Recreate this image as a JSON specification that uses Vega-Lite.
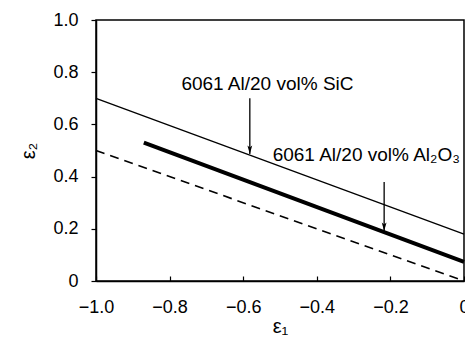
{
  "$schema": "https://vega.github.io/schema/vega-lite/v6.json",
  "width": 368,
  "height": 261,
  "autosize": {"type": "none"},
  "padding": {"left": 96, "top": 20, "right": 1, "bottom": 57},
  "background": "white",
  "config": {
    "view": {"stroke": "black", "strokeWidth": 1.5},
    "font": "Liberation Sans",
    "axis": {
      "grid": false,
      "domainColor": "black",
      "domainWidth": 1.5,
      "tickColor": "black",
      "tickWidth": 1.2,
      "labelColor": "black",
      "labelFont": "Liberation Sans",
      "labelFontSize": 18,
      "titleFont": "Liberation Sans",
      "titleFontSize": 20,
      "titleFontWeight": "normal",
      "titleColor": "black"
    }
  },
  "datasets": {
    "lines": [
      {"series": "SiC", "e1": -1.0, "e2": 0.70},
      {"series": "SiC", "e1": 0.0, "e2": 0.18},
      {"series": "Al2O3", "e1": -0.87, "e2": 0.53},
      {"series": "Al2O3", "e1": 0.0, "e2": 0.073},
      {"series": "dashed", "e1": -1.0, "e2": 0.5},
      {"series": "dashed", "e1": 0.0, "e2": 0.0}
    ],
    "arrows": [
      {"e1": -0.582, "top": 0.70, "tip": 0.487},
      {"e1": -0.217, "top": 0.379, "tip": 0.192}
    ],
    "labels": [
      {"e1": -0.768, "e2": 0.732, "text": "6061 Al/20 vol% SiC"},
      {"e1": -0.52, "e2": 0.461, "text": "6061 Al/20 vol% Al₂O₃"}
    ]
  },
  "layer": [
    {
      "data": {"name": "lines"},
      "transform": [{"filter": "datum.series == 'SiC'"}],
      "mark": {"type": "line", "color": "black", "strokeWidth": 1.3},
      "encoding": {
        "x": {
          "field": "e1", "type": "quantitative",
          "scale": {"domain": [-1, 0], "nice": false},
          "axis": {
            "title": "ε₁",
            "titlePadding": 0,
            "values": [-1, -0.9, -0.8, -0.7, -0.6, -0.5, -0.4, -0.3, -0.2, -0.1, 0],
            "labelExpr": "abs(round(datum.value*10)) % 2 == 1 ? '' : (datum.value == 0 ? '0' : format(datum.value, '.1f'))",
            "tickSize": -5,
            "labelPadding": 22,
            "labelFlush": false
          }
        },
        "y": {
          "field": "e2", "type": "quantitative",
          "scale": {"domain": [0, 1], "nice": false},
          "axis": {
            "title": "ε₂",
            "titlePadding": 14,
            "values": [0, 0.1, 0.2, 0.3, 0.4, 0.5, 0.6, 0.7, 0.8, 0.9, 1.0],
            "labelExpr": "round(datum.value*10) % 2 == 1 ? '' : (datum.value == 0 ? '0' : format(datum.value, '.1f'))",
            "tickSize": 5,
            "labelPadding": 13,
            "labelFlush": false
          }
        }
      }
    },
    {
      "data": {"name": "lines"},
      "transform": [{"filter": "datum.series == 'Al2O3'"}],
      "mark": {"type": "line", "color": "black", "strokeWidth": 4},
      "encoding": {
        "x": {"field": "e1", "type": "quantitative"},
        "y": {"field": "e2", "type": "quantitative"}
      }
    },
    {
      "data": {"name": "lines"},
      "transform": [{"filter": "datum.series == 'dashed'"}],
      "mark": {"type": "line", "color": "black", "strokeWidth": 1.6, "strokeDash": [9, 6]},
      "encoding": {
        "x": {"field": "e1", "type": "quantitative"},
        "y": {"field": "e2", "type": "quantitative"}
      }
    },
    {
      "data": {"name": "arrows"},
      "mark": {"type": "rule", "color": "black", "strokeWidth": 1.3},
      "encoding": {
        "x": {"field": "e1", "type": "quantitative"},
        "y": {"field": "top", "type": "quantitative"},
        "y2": {"field": "tip"}
      }
    },
    {
      "data": {"name": "arrows"},
      "mark": {"type": "point", "shape": "M0,0L-0.6,-2.1L0,-1.6L0.6,-2.1Z", "filled": true, "color": "black", "opacity": 1, "size": 64, "strokeWidth": 0},
      "encoding": {
        "x": {"field": "e1", "type": "quantitative"},
        "y": {"field": "tip", "type": "quantitative"}
      }
    },
    {
      "data": {"name": "labels"},
      "mark": {"type": "text", "align": "left", "baseline": "alphabetic", "fontSize": 19, "font": "Liberation Sans", "color": "black"},
      "encoding": {
        "x": {"field": "e1", "type": "quantitative"},
        "y": {"field": "e2", "type": "quantitative"},
        "text": {"field": "text"}
      }
    }
  ]
}
